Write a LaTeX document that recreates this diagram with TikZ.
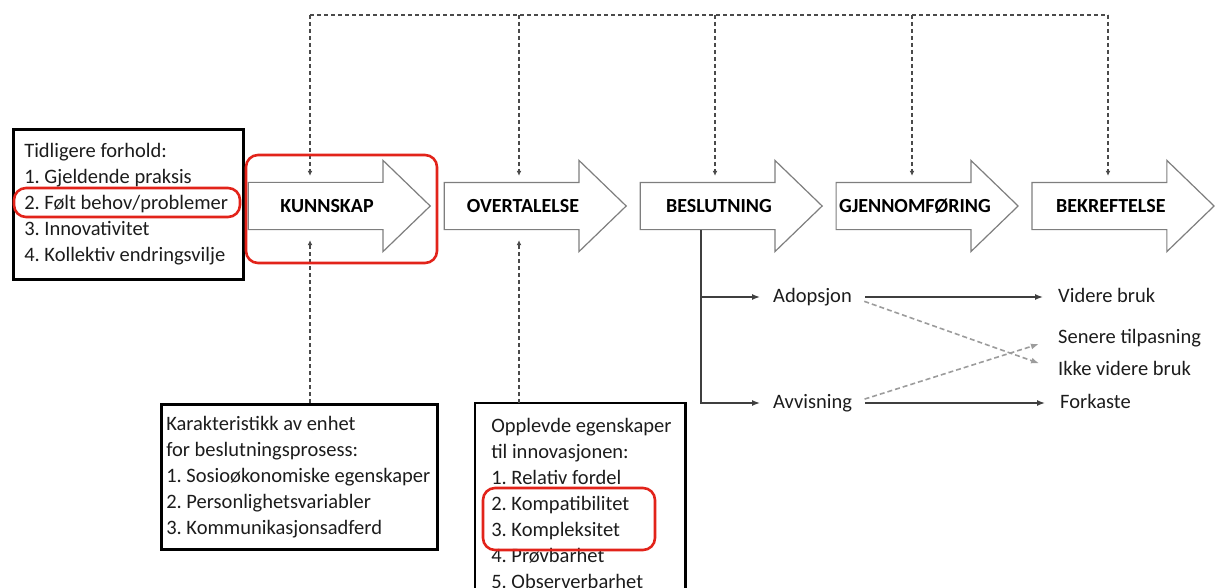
\documentclass[tikz,border=0pt]{standalone}
\usepackage{fontspec}
\setmainfont{Carlito}
\usetikzlibrary{arrows.meta,positioning,shapes.arrows}
\definecolor{markred}{HTML}{E2231A}
\definecolor{stageline}{HTML}{7E7E7E}
\definecolor{fbgray}{HTML}{4A4A4A}
\definecolor{crossgray}{HTML}{9C9C9C}
\definecolor{flowgray}{HTML}{3F3F3F}
\definecolor{inktext}{HTML}{1C1C1C}
\tikzset{
  stagearrow/.style={
    single arrow,
    draw=stageline,
    line width=1.2pt,
    fill=white,
    minimum height=182pt,
    single arrow head extend=22pt,
    single arrow tip angle=88,
    text height=13pt, text depth=0pt,
    inner xsep=-30pt, inner ysep=16.5pt,
    font=\bfseries\fontsize{20}{24}\selectfont
  },
  infobox/.style={
    draw=black,
    line width=2.6pt,
    align=left,
    anchor=north west,
    font=\fontsize{20.5}{26}\selectfont,
    text=inktext,
    execute at begin node={\spaceskip=0pt\xspaceskip=0pt\frenchspacing}
  },
  flowlbl/.style={
    anchor=west,
    inner sep=0pt,
    text height=14pt, text depth=4pt,
    font=\fontsize{20.5}{24}\selectfont,
    text=inktext
  },
  redmark/.style={draw=markred,line width=2.6pt,rounded corners=12pt},
  fbarrow/.style={-{Latex[length=5pt,width=5pt]},draw=fbgray,line width=1.3pt,dash pattern=on 4pt off 3pt},
  flowarrow/.style={-{Latex[length=8pt,width=6pt]},draw=flowgray,line width=1.4pt},
  crossarrow/.style={-{Latex[length=8pt,width=6pt]},draw=crossgray,line width=1.6pt,dash pattern=on 5pt off 3pt}
}
\begin{document}
\begin{tikzpicture}[x=1pt,y=-1pt,node distance=12.5pt]
  \useasboundingbox (0,0) rectangle (1215,588);
  \coordinate (pagebot) at (0,588);

  % the five stages
  \node[stagearrow] (kunn) at (327,206) {KUNNSKAP};
  \node[stagearrow,right=of kunn] (over) {OVERTALELSE};
  \node[stagearrow,right=of over] (besl) {BESLUTNING};
  \node[stagearrow,right=of besl] (gjen) {GJENNOMFØRING};
  \node[stagearrow,right=of gjen] (bekr) {BEKREFTELSE};

  % feedback from the top
  \coordinate (fb1) at (310,15);
  \coordinate (fb2) at (519,15);
  \coordinate (fb3) at (715,15);
  \coordinate (fb4) at (912,15);
  \coordinate (fb5) at (1108,15);
  \draw[fbarrow,-] (fb1) -- (fb5);
  \draw[fbarrow,shorten >=6pt] (fb1) -- (fb1 |- kunn.north);
  \draw[fbarrow,shorten >=6pt] (fb2) -- (fb2 |- over.north);
  \draw[fbarrow,shorten >=6pt] (fb3) -- (fb3 |- besl.north);
  \draw[fbarrow,shorten >=6pt] (fb4) -- (fb4 |- gjen.north);
  \draw[fbarrow,shorten >=6pt] (fb5) -- (fb5 |- bekr.north);

  % boxes
  \node[infobox,minimum width=230pt,minimum height=150pt,
    text width=208pt,inner xsep=11pt] (prior) at (12,128)
    {Tidligere forhold:\\1. Gjeldende praksis\\2. Følt behov/problemer\\
     3. Innovativitet\\4. Kollektiv endringsvilje};
  \node[infobox,minimum width=276pt,minimum height=145pt,
    text width=266pt,inner xsep=5pt] (charbox) at (160,403)
    {Karakteristikk av enhet\\for beslutningsprosess:\\
     \mbox{1. Sosioøkonomiske egenskaper}\\2. Personlighetsvariabler\\
     3. Kommunikasjonsadferd};
  \node[infobox,draw=none,text width=178pt,inner xsep=15pt,
    inner ysep=14pt] (propbox) at (475,403)
    {\mbox{Opplevde egenskaper}\\til innovasjonen:\\1. Relativ fordel\\
     2. Kompatibilitet\\3. Kompleksitet\\4. Prøvbarhet\\5. Observerbarhet};
  \draw[line width=2.6pt] (propbox.north west |- pagebot) -- (propbox.north west)
    -- (propbox.north east) -- (propbox.north east |- pagebot);

  \draw[fbarrow,shorten >=10pt] (fb1 |- charbox.north) -- (fb1 |- kunn.south);
  \draw[fbarrow,shorten >=10pt] (fb2 |- propbox.north) -- (fb2 |- over.south);

  % decision outcomes
  \coordinate (decx) at (701,0);
  \node[flowlbl] (adop) at (773,297) {Adopsjon};
  \node[flowlbl] (avv) at (773,403) {Avvisning};
  \node[flowlbl] (vid) at (1058,297) {Videre bruk};
  \node[flowlbl] (sen) at (1058,338) {Senere tilpasning};
  \node[flowlbl] (ikke) at (1058,370) {Ikke videre bruk};
  \node[flowlbl] (fork) at (1060,403) {Forkaste};
  \draw[flowarrow,shorten >=13pt] (besl.south -| decx) |- (adop.west);
  \draw[flowarrow,shorten >=13pt] (besl.south -| decx) |- (avv.west);
  \draw[flowarrow,shorten <=13pt,shorten >=15pt] (adop.east) -- (vid.west);
  \draw[flowarrow,shorten <=13pt,shorten >=15pt] (avv.east) -- (fork.west);
  \draw[crossarrow,shorten <=13pt,shorten >=20pt] (adop.east) -- (ikke.west);
  \draw[crossarrow,shorten <=13pt,shorten >=20pt] (avv.east) -- (sen.west);

  % highlights
  \draw[redmark] (246,155) rectangle (437,263);
  \draw[redmark] (14,188) rectangle (240,217);
  \draw[redmark] (483,488) rectangle (655,550);
\end{tikzpicture}
\end{document}
